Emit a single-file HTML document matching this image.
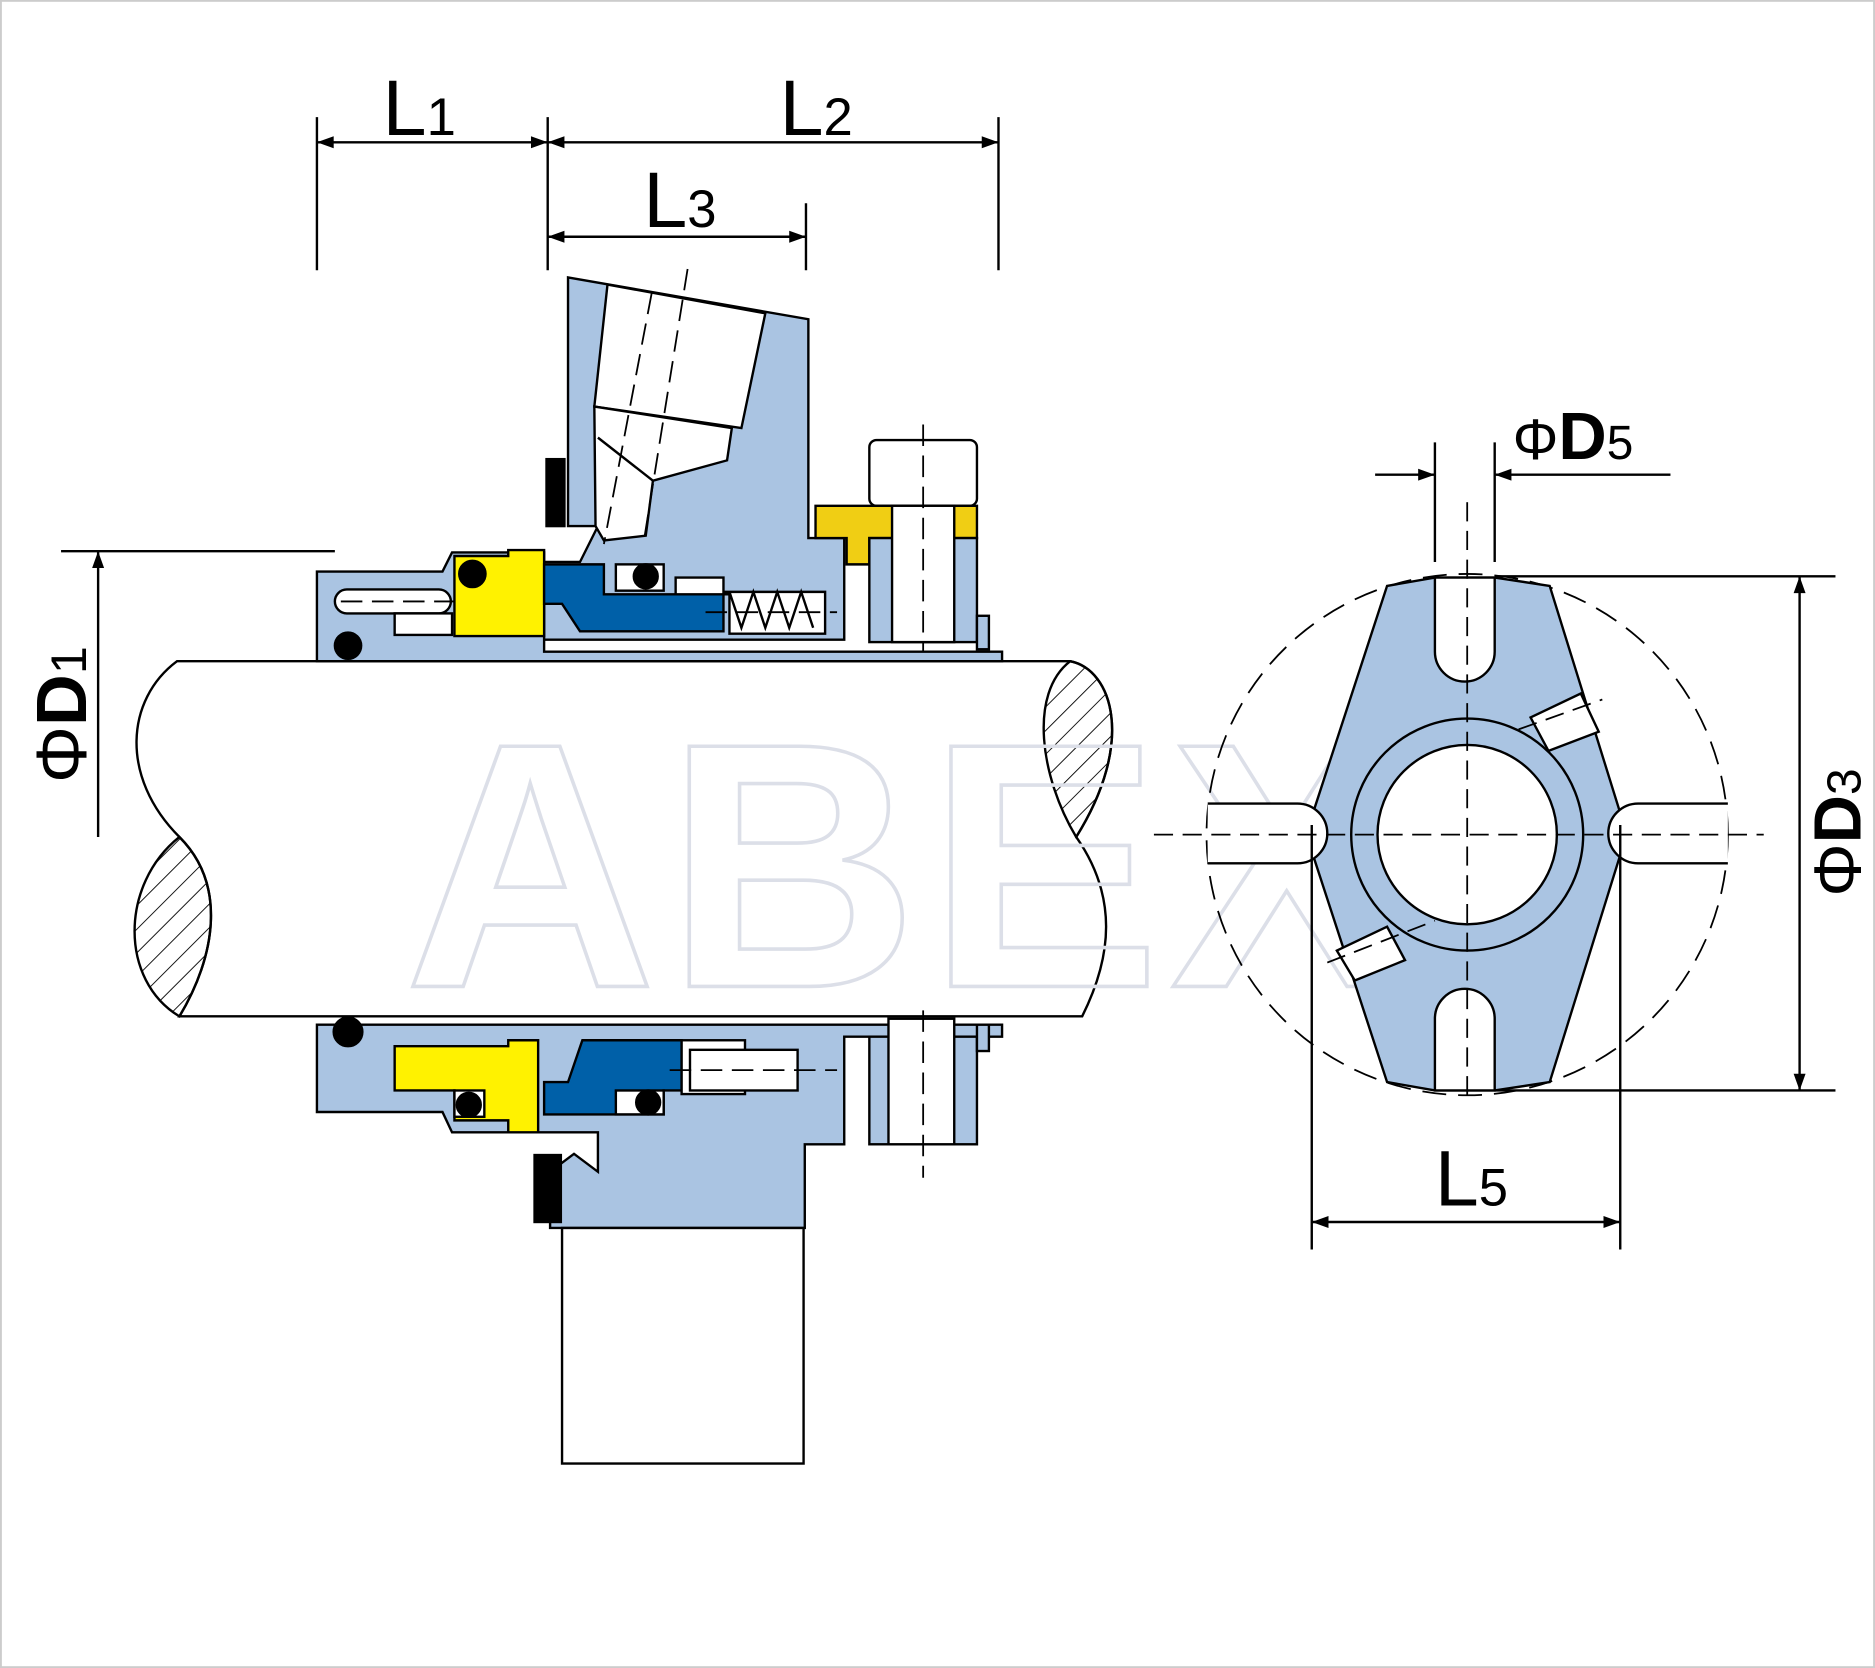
<!DOCTYPE html>
<html><head><meta charset="utf-8"><style>
html,body{margin:0;padding:0;background:#fff;}
svg{display:block;}
text{font-family:"Liberation Sans",sans-serif;}
</style></head><body>
<svg width="1875" height="1668" viewBox="0 0 1568 1395" xmlns="http://www.w3.org/2000/svg">
<rect x="0.5" y="0.5" width="1567" height="1394" fill="#fff" stroke="#ccc" stroke-width="2"/>

<g stroke="#000" stroke-width="2" fill="none">
<line x1="265" y1="98" x2="265" y2="226"/>
<line x1="458" y1="98" x2="458" y2="226"/>
<line x1="835" y1="98" x2="835" y2="226"/>
<line x1="674" y1="170" x2="674" y2="226"/>
<line x1="265" y1="119" x2="458" y2="119"/>
<line x1="458" y1="119" x2="835" y2="119"/>
<line x1="458" y1="198" x2="674" y2="198"/>
<line x1="51" y1="461" x2="280" y2="461"/>
<line x1="82" y1="461" x2="82" y2="700"/>
<line x1="240" y1="553" x2="240" y2="712"/>
</g>
<g fill="#000">
<polygon points="265,119 279,114 279,124"/><polygon points="458,119 444,114 444,124"/>
<polygon points="458,119 472,114 472,124"/><polygon points="835,119 821,114 821,124"/>
<polygon points="458,198 472,193 472,203"/><polygon points="674,198 660,193 660,203"/>
<polygon points="82,461 77,475 87,475"/><polygon points="240,553 235,567 245,567"/>
</g>
<text x="320" y="113" font-size="66">L<tspan font-size="44">1</tspan></text>
<text x="652" y="113" font-size="66">L<tspan font-size="44">2</tspan></text>
<text x="538" y="190" font-size="66">L<tspan font-size="44">3</tspan></text>
<text transform="translate(72,655) rotate(-90)" font-size="60">Φ<tspan font-size="60" font-weight="bold">D</tspan><tspan font-size="42">1</tspan></text>
<text transform="translate(225,690) rotate(-90)" font-size="60">Φ<tspan font-weight="bold">d</tspan></text>

<!-- shaft -->
<g stroke="#000" stroke-width="2">
<path d="M148,553 L895,553 C930,560 950,620 900,700 C935,750 930,800 905,850 L150,850 C180,800 190,740 150,700 C100,650 105,585 148,553 Z" fill="#fff"/>
</g>
<defs><pattern id="h" width="14" height="14" patternUnits="userSpaceOnUse" patternTransform="rotate(45)"><line x1="0" y1="0" x2="0" y2="14" stroke="#000" stroke-width="1.5"/></pattern></defs>
<path d="M150,700 C190,740 180,800 150,850 C100,820 100,740 150,700 Z" fill="url(#h)" stroke="#000" stroke-width="2"/>
<path d="M895,553 C930,560 950,620 900,700 C870,650 860,580 895,553 Z" fill="url(#h)" stroke="#000" stroke-width="2"/>

<!-- watermark -->
<text x="338" y="825" fill="none" stroke="#dcdfe8" stroke-width="3" font-size="292" font-weight="bold" style="letter-spacing:8px">ABEX</text>

<!-- upper seal -->
<g stroke="#000" stroke-width="2">
<path d="M475,232 L676,267 L676,450 L706,450 L706,535 L441,535 L441,470 L485,470 L500,440 L492,440 L475,440 Z" fill="#aac4e2"/>
<path d="M508,238 L640,262 L620,358 L497,340 Z" fill="#fff"/>
<path d="M497,340 L612,358 L608,385 L546,402 L540,448 L505,452 L498,440 Z" fill="#fff"/>
<line x1="500" y1="366" x2="546" y2="402"/>
<rect x="457" y="384" width="15" height="56" fill="#000"/>
<path d="M265,478 L370,478 L378,462 L455,462 L455,545 L838,545 L838,553 L265,553 Z" fill="#aac4e2"/>
<path d="M380,465 L425,465 L425,460 L455,460 L455,532 L380,532 Z" fill="#fff200"/>
<path d="M455,472 L505,472 L505,497 L605,497 L605,528 L485,528 L470,505 L455,505 Z" fill="#0060a8"/>
<rect x="515" y="472" width="40" height="22" fill="#fff"/>
<path d="M565,483 L605,483 L605,495 L690,495 L690,530 L610,530 L610,497 L565,497 Z" fill="#fff"/>
<polyline points="610,495 620,525 630,495 640,525 650,495 660,525 670,495 680,525" fill="none"/>
<rect x="280" y="493" width="97" height="20" rx="10" fill="#fff"/>
<rect x="330" y="513" width="48" height="18" fill="#fff"/>
<circle cx="395" cy="480" r="11" fill="#000"/><circle cx="540" cy="482" r="10" fill="#000"/><circle cx="291" cy="540" r="11" fill="#000"/>
<rect x="727" y="368" width="90" height="55" rx="6" fill="#fff"/>
<path d="M682,423 L817,423 L817,450 L727,450 L727,472 L708,472 L708,450 L682,450 Z" fill="#f0ce14"/>
<rect x="727" y="450" width="90" height="87" fill="#aac4e2"/>
<rect x="746" y="423" width="52" height="114" fill="#fff"/>
<rect x="817" y="515" width="10" height="28" fill="#aac4e2"/>
</g>

<!-- lower seal -->
<g stroke="#000" stroke-width="2">
<path d="M265,857 L838,857 L838,867 L706,867 L706,957 L673,957 L673,1027 L460,1027 L460,980 L480,965 L500,980 L500,947 L378,947 L370,930 L265,930 Z" fill="#aac4e2"/>
<rect x="447" y="966" width="22" height="56" fill="#000"/>
<rect x="470" y="1027" width="202" height="197" fill="#fff"/>
<path d="M330,875 L425,875 L425,870 L450,870 L450,947 L425,947 L425,937 L380,937 L380,912 L330,912 Z" fill="#fff200"/>
<path d="M455,905 L475,905 L487,870 L570,870 L570,912 L555,912 L555,932 L455,932 Z" fill="#0060a8"/>
<rect x="570" y="870" width="53" height="45" fill="#fff"/>
<rect x="577" y="878" width="90" height="34" fill="#fff"/>
<rect x="380" y="912" width="25" height="22" fill="#fff"/>
<rect x="515" y="912" width="40" height="20" fill="#fff"/>
<circle cx="291" cy="863" r="12" fill="#000"/><circle cx="392" cy="924" r="10" fill="#000"/><circle cx="542" cy="922" r="10" fill="#000"/>
<rect x="727" y="867" width="90" height="90" fill="#aac4e2"/>
<rect x="743" y="852" width="55" height="105" fill="#fff"/>
<rect x="817" y="857" width="10" height="22" fill="#aac4e2"/>
</g>
<g stroke="#000" stroke-width="1.5" stroke-dasharray="18,8" fill="none">
<line x1="575" y1="225" x2="538" y2="455"/>
<line x1="545" y1="245" x2="505" y2="455"/>
<line x1="772" y1="355" x2="772" y2="545"/>
<line x1="772" y1="845" x2="772" y2="985"/>
<line x1="285" y1="503" x2="380" y2="503"/>
<line x1="560" y1="895" x2="700" y2="895"/>
<line x1="590" y1="512" x2="700" y2="512"/>
</g>

<!-- right view -->
<circle cx="1227" cy="698" r="218" stroke="#000" stroke-width="1.5" fill="none" stroke-dasharray="20,10"/>
<g stroke="#000" stroke-width="2">
<path d="M1160,490 L1200,483 L1250,483 L1296,490 L1355,680 L1355,715 L1296,905 L1250,912 L1200,912 L1160,905 L1098,715 L1098,680 Z" fill="#aac4e2"/>
<path d="M1200,483 L1200,545 A25,25 0 0 0 1250,545 L1250,483 Z" fill="#fff"/>
<path d="M1200,912 L1200,852 A25,25 0 0 1 1250,852 L1250,912 Z" fill="#fff"/>
<path d="M1010,672 L1085,672 A25,25 0 0 1 1085,722 L1010,722" fill="#fff"/>
<path d="M1445,672 L1370,672 A25,25 0 0 0 1370,722 L1445,722" fill="#fff"/>
<path d="M1280,600 L1322,580 L1337,612 L1295,628 Z" fill="#fff"/>
<path d="M1118,795 L1160,775 L1175,803 L1133,820 Z" fill="#fff"/>
<circle cx="1227" cy="698" r="97" fill="#aac4e2"/>
<circle cx="1227" cy="698" r="75" fill="#fff"/>
</g>
<g stroke="#000" stroke-width="1.5" stroke-dasharray="16,8" fill="none">
<line x1="1227" y1="420" x2="1227" y2="920"/>
<line x1="965" y1="698" x2="1475" y2="698"/>
<line x1="1270" y1="610" x2="1340" y2="585"/>
<line x1="1110" y1="805" x2="1200" y2="770"/>
</g>
<g stroke="#000" stroke-width="2" fill="none">
<line x1="1200" y1="370" x2="1200" y2="470"/>
<line x1="1250" y1="370" x2="1250" y2="470"/>
<line x1="1150" y1="397" x2="1200" y2="397"/>
<line x1="1250" y1="397" x2="1397" y2="397"/>
<line x1="1250" y1="482" x2="1535" y2="482"/>
<line x1="1250" y1="912" x2="1535" y2="912"/>
<line x1="1505" y1="482" x2="1505" y2="912"/>
<line x1="1097" y1="690" x2="1097" y2="1045"/>
<line x1="1355" y1="690" x2="1355" y2="1045"/>
<line x1="1097" y1="1022" x2="1355" y2="1022"/>
</g>
<g fill="#000">
<polygon points="1200,397 1186,392 1186,402"/><polygon points="1250,397 1264,392 1264,402"/>
<polygon points="1505,482 1500,496 1510,496"/><polygon points="1505,912 1500,898 1510,898"/>
<polygon points="1097,1022 1111,1017 1111,1027"/><polygon points="1355,1022 1341,1017 1341,1027"/>
</g>
<text x="1265" y="384" font-size="48">Φ<tspan font-size="56" font-weight="bold">D</tspan><tspan font-size="40">5</tspan></text>
<text x="1200" y="1008" font-size="66">L<tspan font-size="44">5</tspan></text>
<text transform="translate(1556,750) rotate(-90)" font-size="56">Φ<tspan font-weight="bold">D</tspan><tspan font-size="40">3</tspan></text>
</svg>
</body></html>
